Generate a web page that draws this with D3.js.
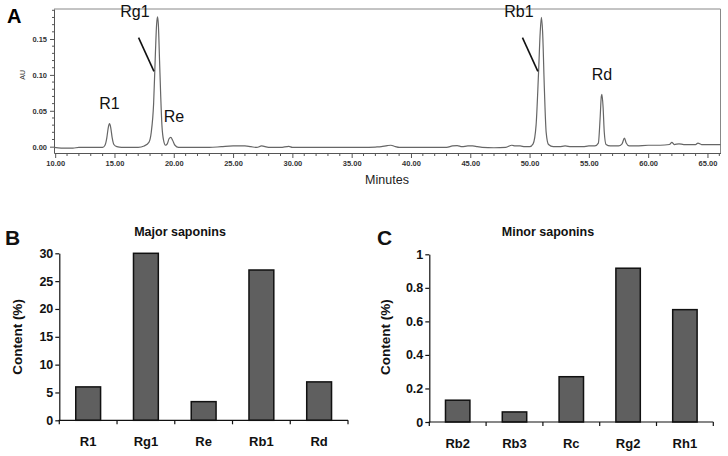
<!DOCTYPE html>
<html><head><meta charset="utf-8">
<script src="https://cdn.jsdelivr.net/npm/d3@7"></script>
<style>html,body{margin:0;padding:0;background:#fff}svg{display:block;font-family:"Liberation Sans",Arial,sans-serif}</style>
</head><body>
<svg id="chart" width="728" height="456"></svg>
<script>
// ---- Panel A: chromatogram ----
const chromTime = [9.9,10.5,11.0,11.5,12.0,12.5,13.0,13.5,14.0,14.2,14.35,14.48,14.58,14.68,14.8,14.95,15.2,15.6,16.0,16.5,17.0,17.5,17.9,18.1,18.3,18.45,18.55,18.63,18.7,18.8,18.9,19.0,19.15,19.3,19.45,19.6,19.75,19.9,20.1,20.4,21.0,22.0,23.0,24.0,25.0,26.0,26.5,27.0,27.4,28.0,29.0,29.7,30.0,32.0,34.0,36.0,37.0,37.5,38.0,38.3,38.7,39.0,41.0,43.0,43.5,43.9,44.3,44.8,45.2,45.6,46.0,47.0,48.0,48.5,48.8,49.2,49.6,50.0,50.3,50.55,50.75,50.9,51.0,51.1,51.25,51.4,51.6,52.0,52.5,53.0,53.5,54.5,55.0,55.5,55.8,55.95,56.05,56.1,56.2,56.3,56.45,56.8,57.5,57.8,58.0,58.15,58.4,59.0,60.0,61.0,61.8,62.0,62.2,62.6,63.0,64.0,64.2,64.5,65.0,66.0,66.1];
const chromAU = [-0.001,-0.002,-0.002,-0.002,-0.001,-0.001,-0.001,-0.001,-0.001,0.002,0.012,0.027,0.032,0.027,0.013,0.003,0.000,-0.001,-0.001,-0.001,-0.001,0.001,0.006,0.02,0.06,0.13,0.17,0.181,0.17,0.12,0.07,0.03,0.008,0.002,0.004,0.011,0.013,0.009,0.002,-0.001,-0.001,-0.001,-0.001,0.000,0.001,0.001,0.000,-0.001,0.001,-0.001,-0.001,0.0005,-0.001,-0.001,-0.001,-0.001,-0.0005,0.000,0.0015,0.002,0.000,-0.001,-0.001,-0.001,0.001,0.0015,0.000,0.001,0.001,0.000,-0.001,-0.0015,-0.001,0.002,0.001,0.001,0.000,0.000,0.004,0.03,0.1,0.16,0.18,0.16,0.08,0.02,0.003,0.000,0.000,0.001,0.000,0.000,0.001,0.001,0.005,0.04,0.07,0.073,0.055,0.02,0.003,0.001,0.001,0.004,0.012,0.005,0.001,0.001,0.002,0.002,0.003,0.006,0.003,0.004,0.003,0.003,0.005,0.003,0.003,0.003,0.003];
const peakNames = ["R1","Rg1","Re","Rb1","Rd"];
const peakTimes = [14.58,18.63,19.75,51.0,56.1];
const chromXTicks = [10,15,20,25,30,35,40,45,50,55,60,65];
const chromYTicks = [0,0.05,0.10,0.15];

// ---- Panel B: major saponins ----
const majorNames = ["R1","Rg1","Re","Rb1","Rd"];
const majorValues = [6.0,30.0,3.35,27.0,6.9];
const majorTicks = [0,5,10,15,20,25,30];

// ---- Panel C: minor saponins ----
const minorNames = ["Rb2","Rb3","Rc","Rg2","Rh1"];
const minorValues = [0.13,0.06,0.27,0.917,0.67];
const minorTicks = [0,0.2,0.4,0.6,0.8,1];

const svg = d3.select("#chart");

// ===== Panel A =====
(function(){
  const x = d3.scaleLinear().domain([9.9,66.1]).range([54,720.5]);
  const y = d3.scaleLinear().domain([-0.0088,0.1918]).range([153,9]);
  const g = svg.append("g");
  const axisCol = "#555";
  g.append("line").attr("x1",54).attr("x2",720.5).attr("y1",9).attr("y2",9).attr("stroke","#888").attr("stroke-width",1);
  g.append("line").attr("x1",720.5).attr("x2",720.5).attr("y1",9).attr("y2",153).attr("stroke","#888").attr("stroke-width",1);
  const xa = d3.axisBottom(x).tickValues(chromXTicks).tickFormat(d3.format(".2f")).tickSize(5).tickSizeOuter(0);
  const gx = g.append("g").attr("transform","translate(0,153)").call(xa);
  gx.select(".domain").attr("stroke",axisCol);
  gx.selectAll(".tick line").attr("stroke",axisCol);
  gx.selectAll("text").attr("font-size",7.5).attr("font-weight","bold").attr("fill","#333").attr("dy","0.6em");
  const minorX = d3.range(10,67,1).filter(v=>v%5!==0);
  g.append("g").selectAll("line").data(minorX).join("line")
    .attr("x1",d=>x(d)).attr("x2",d=>x(d)).attr("y1",153).attr("y2",156).attr("stroke",axisCol);
  const ya = d3.axisLeft(y).tickValues(chromYTicks).tickFormat(d3.format(".2f")).tickSize(4).tickSizeOuter(0);
  const gy = g.append("g").attr("transform","translate(54,0)").call(ya);
  gy.select(".domain").attr("stroke",axisCol);
  gy.selectAll(".tick line").attr("stroke",axisCol);
  gy.selectAll("text").attr("font-size",7.5).attr("font-weight","bold").attr("fill","#333");
  const minorY = d3.range(1,20).map(i=>i/100).filter(v=>Math.round(v*100)%5!==0);
  g.append("g").selectAll("line").data(minorY).join("line")
    .attr("x1",52).attr("x2",54).attr("y1",d=>y(d)).attr("y2",d=>y(d)).attr("stroke",axisCol);
  const pts = chromTime.map((t,i)=>[t,chromAU[i]]);
  g.append("path").datum(pts)
    .attr("d",d3.line().x(d=>x(d[0])).y(d=>y(d[1])).curve(d3.curveMonotoneX))
    .attr("fill","none").attr("stroke","#666").attr("stroke-width",1.2);
  g.append("text").attr("x",25).attr("y",y(0.1)).attr("transform",`rotate(-90,25,${y(0.1)})`)
    .attr("text-anchor","middle").attr("font-size",7).attr("fill","#333").text("AU");
  g.append("text").attr("x",387).attr("y",184).attr("text-anchor","middle").attr("font-size",12.5).attr("fill","#222").text("Minutes");
  g.append("text").attr("x",7).attr("y",23).attr("font-size",20).attr("font-weight","bold").text("A");
  const lab = [
    {n:0, dx:0, ty:0.052},
    {n:1, dx:-1.9, ty:0.184},
    {n:2, dx:0.1, ty:0.034},
    {n:3, dx:-1.9, ty:0.184},
    {n:4, dx:0, ty:0.093}
  ];
  lab.forEach(l=>{
    const t = peakTimes[l.n];
    g.append("text").attr("x",x(t+l.dx)+(l.n===2?2:0)).attr("y",y(l.ty)+ (l.n===1||l.n===3?2:0))
      .attr("text-anchor","middle").attr("font-size",16).attr("fill","#111").text(peakNames[l.n]);
  });
  [1,3].forEach(n=>{
    const t = peakTimes[n];
    g.append("line").attr("x1",x(t-1.6)).attr("y1",y(0.152)).attr("x2",x(t-0.3)).attr("y2",y(0.105))
      .attr("stroke","#111").attr("stroke-width",1.6);
  });
})();

// ===== Bar panels =====
function barPanel(opt){
  const g = svg.append("g");
  const x = d3.scaleBand().domain(opt.names).range([opt.x0,opt.x1]).paddingInner(0).paddingOuter(0);
  const y = d3.scaleLinear().domain([0,opt.max]).range([opt.y0,opt.yTop]);
  const bw = x.bandwidth()*0.43;
  g.selectAll("rect").data(opt.values).join("rect")
    .attr("x",(d,i)=>x(opt.names[i])+x.bandwidth()/2-bw/2)
    .attr("width",bw)
    .attr("y",d=>y(d)).attr("height",d=>opt.y0-y(d))
    .attr("fill","#5f5f5f").attr("stroke","#111").attr("stroke-width",1.5);
  const ya = d3.axisLeft(y).tickValues(opt.ticks).tickFormat(opt.fmt).tickSize(4).tickSizeOuter(0);
  const gy = g.append("g").attr("transform",`translate(${opt.x0},0)`).call(ya);
  gy.select(".domain").attr("stroke","#111").attr("stroke-width",1.2);
  gy.selectAll(".tick line").attr("stroke","#111").attr("stroke-width",1.2);
  gy.selectAll("text").attr("font-size",12.5).attr("font-weight","bold").attr("fill","#111").attr("x",-6);
  g.append("line").attr("x1",opt.x0-0.6).attr("x2",opt.x1).attr("y1",opt.y0).attr("y2",opt.y0).attr("stroke","#111").attr("stroke-width",1.2);
  const bounds = [opt.x0].concat(opt.names.map(n=>x(n)+x.bandwidth()));
  g.append("g").selectAll("line").data(bounds).join("line")
    .attr("x1",d=>d).attr("x2",d=>d).attr("y1",opt.y0).attr("y2",opt.y0+4).attr("stroke","#111").attr("stroke-width",1.2);
  g.append("g").selectAll("text").data(opt.names).join("text")
    .attr("x",d=>x(d)+x.bandwidth()/2).attr("y",opt.y0+26).attr("text-anchor","middle")
    .attr("font-size",13).attr("font-weight","bold").attr("fill","#111").text(d=>d);
  g.append("text").attr("x",opt.titleX).attr("y",236).attr("text-anchor","middle")
    .attr("font-size",12.5).attr("font-weight","bold").attr("fill","#111").text(opt.title);
  g.append("text").attr("x",opt.letterX).attr("y",245).attr("font-size",21).attr("font-weight","bold").attr("fill","#111").text(opt.letter);
  const cy = 337;
  g.append("text").attr("x",opt.labX).attr("y",cy).attr("transform",`rotate(-90,${opt.labX},${cy})`)
    .attr("text-anchor","middle").attr("font-size",13.5).attr("font-weight","bold").attr("fill","#111").text("Content (%)");
}
barPanel({names:majorNames, values:majorValues, ticks:majorTicks, max:30, fmt:d3.format("d"),
  x0:59.3, x1:348, y0:420.3, yTop:253.3, title:"Major saponins", titleX:180, letter:"B", letterX:5, labX:22});
barPanel({names:minorNames, values:minorValues, ticks:minorTicks, max:1, fmt:d=>d===0?"0":d===1?"1":d3.format(".1f")(d),
  x0:429.3, x1:713.3, y0:422, yTop:254.3, title:"Minor saponins", titleX:548, letter:"C", letterX:377, labX:390});
</script>
</body></html>
